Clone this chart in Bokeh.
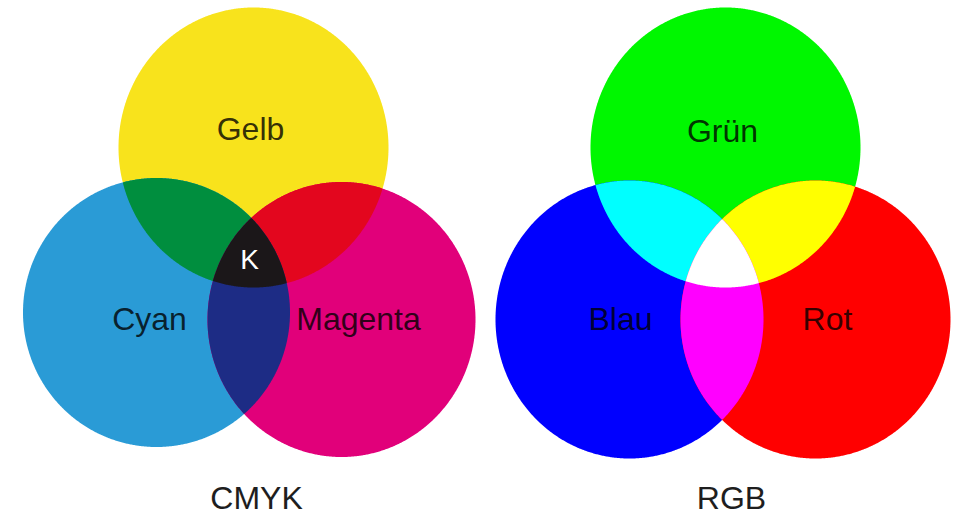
import numpy as np
from bokeh.plotting import figure
from bokeh.models import Range1d
from bokeh.core.properties import value
from bokeh.embed import file_html
from bokeh.resources import INLINE

# ---- data (pixel-like units, y pointing up) ----
cmyk_names = ["Gelb", "Cyan", "Magenta"]
cmyk_cx = [253, 156, 341]
cmyk_cy = [370, 205, 198]
cmyk_w = [270, 267, 268]
cmyk_h = [280, 269, 275]
cmyk_colors = ["#F8E31C", "#2A9BD6", "#E1007A"]
cmyk_pair_colors = {(0, 1): "#008E3E", (0, 2): "#E3061E", (1, 2): "#1D2C85"}
cmyk_all_color = "#1B1719"

rgb_names = ["Grün", "Blau", "Rot"]
rgb_cx = [725, 629, 815]
rgb_cy = [370, 198, 198]
rgb_w = [270, 268, 270]
rgb_h = [280, 278, 278]
rgb_colors = ["#00F700", "#0000FF", "#FF0000"]
rgb_pair_colors = {(0, 1): "#00FFFF", (0, 2): "#FFFF00", (1, 2): "#FF00FF"}
rgb_all_color = "#FFFFFF"

label_text = ["Gelb", "Cyan", "Magenta", "Grün", "Blau", "Rot"]
label_x = [250, 149, 358, 722, 620, 827]
label_y = [389, 199, 199, 387, 199, 199]

k_text = ["K"]
k_x = [249]
k_y = [258]

title_text = ["CMYK", "RGB"]
title_x = [256, 731]
title_y = [20, 20]


def ellipse_pts(cx, cy, w, h, n=900):
    t = np.linspace(0, 2 * np.pi, n, endpoint=False)
    return cx + w / 2 * np.cos(t), cy + h / 2 * np.sin(t)


def inside(x, y, e, tol=1e-9):
    cx, cy, w, h = e
    return ((x - cx) / (w / 2)) ** 2 + ((y - cy) / (h / 2)) ** 2 <= 1 + tol


def intersection(ells):
    xs, ys = [], []
    for i, e in enumerate(ells):
        x, y = ellipse_pts(*e)
        m = np.ones_like(x, dtype=bool)
        for j, o in enumerate(ells):
            if j != i:
                m &= inside(x, y, o)
        xs.append(x[m]); ys.append(y[m])
    x = np.concatenate(xs); y = np.concatenate(ys)
    mx, my = x.mean(), y.mean()
    order = np.argsort(np.arctan2(y - my, x - mx))
    return x[order], y[order]


p = figure(width=960, height=517, output_backend="svg", toolbar_location=None,
           x_range=Range1d(0, 960), y_range=Range1d(0, 517),
           min_border=0, outline_line_color=None)
p.axis.visible = False
p.grid.visible = False
p.background_fill_color = "white"
p.border_fill_color = "white"


def draw_set(cx, cy, w, h, colors, pair_colors, all_color):
    ells = list(zip(cx, cy, w, h))
    for e, c in zip(ells, colors):
        x, y = ellipse_pts(*e)
        p.patch(list(x), list(y), fill_color=c, line_color=None)
    for (i, j), c in pair_colors.items():
        x, y = intersection([ells[i], ells[j]])
        p.patch(list(x), list(y), fill_color=c, line_color=None)
    x, y = intersection(ells)
    p.patch(list(x), list(y), fill_color=all_color, line_color=None)


draw_set(cmyk_cx, cmyk_cy, cmyk_w, cmyk_h, cmyk_colors, cmyk_pair_colors, cmyk_all_color)
draw_set(rgb_cx, rgb_cy, rgb_w, rgb_h, rgb_colors, rgb_pair_colors, rgb_all_color)

font = value("Liberation Sans")
p.text(x=label_x, y=label_y, text=label_text, text_font=font, text_font_size="32px",
       text_color="black", text_alpha=0.8, text_align="center", text_baseline="middle")
p.text(x=k_x, y=k_y, text=k_text, text_font=font, text_font_size="28px",
       text_color="white", text_align="center", text_baseline="middle")
p.text(x=title_x, y=title_y, text=title_text, text_font=font, text_font_size="32px",
       text_color="#1e1e1e", text_align="center", text_baseline="middle")

open("out.html", "w").write(file_html(p, INLINE))
